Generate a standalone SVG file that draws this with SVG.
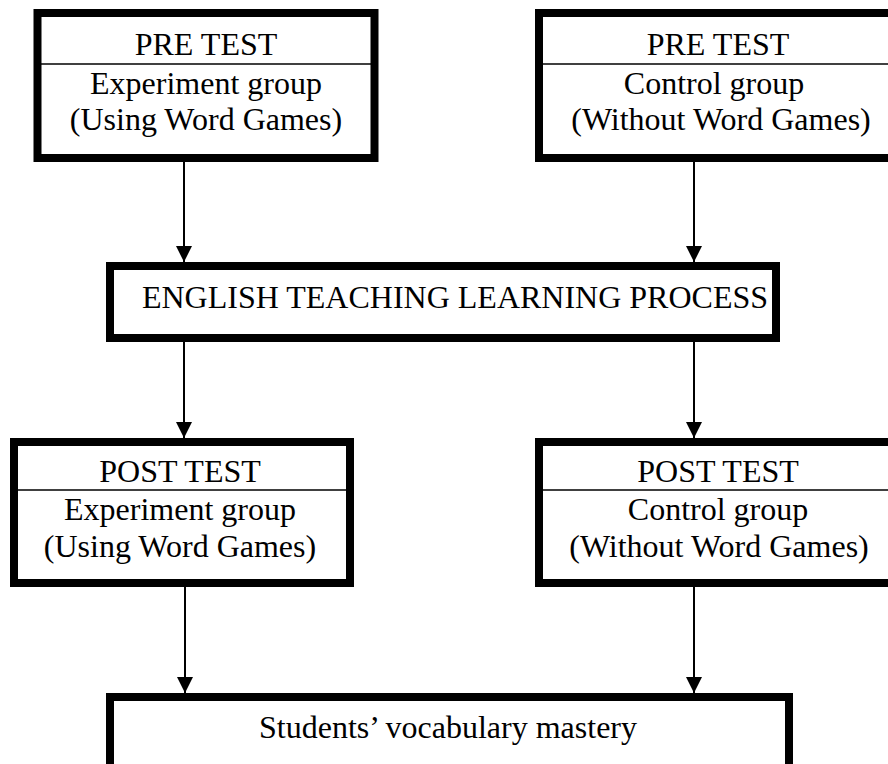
<svg xmlns="http://www.w3.org/2000/svg" width="888" height="764" viewBox="0 0 888 764">
<defs>
<style>
.box{fill:#fff;stroke:#000;stroke-width:8}
.div{stroke:#000;stroke-width:1.5}
.t{font-family:"Liberation Serif","Times New Roman",serif;font-size:32px;fill:#000;text-anchor:middle}
.c{stroke:#000;stroke-width:2;fill:none}
</style>
<marker id="ah" markerUnits="userSpaceOnUse" markerWidth="16" markerHeight="16" viewBox="0 0 16 16" refX="16" refY="8" orient="auto">
<path d="M0,0 L16,8 L0,16 Z" fill="#000"/>
</marker>
</defs>
<rect width="888" height="764" fill="#fff"/>
<g id="connectors">
<line class="c" x1="184" y1="162" x2="184" y2="262" marker-end="url(#ah)"/>
<line class="c" x1="694" y1="162" x2="694" y2="262" marker-end="url(#ah)"/>
<line class="c" x1="184" y1="342" x2="184" y2="438" marker-end="url(#ah)"/>
<line class="c" x1="694" y1="342" x2="694" y2="438" marker-end="url(#ah)"/>
<line class="c" x1="185" y1="587" x2="185" y2="693" marker-end="url(#ah)"/>
<line class="c" x1="694" y1="587" x2="694" y2="693" marker-end="url(#ah)"/>
</g>
<g id="pre-experiment">
<rect class="box" x="37.5" y="13" width="337" height="145"/>
<line class="div" x1="41" y1="64" x2="371" y2="64"/>
<text class="t" x="206" y="55">PRE TEST</text>
<text class="t" x="206" y="94">Experiment group</text>
<text class="t" x="206" y="130">(Using Word Games)</text>
</g>
<g id="pre-control">
<rect class="box" x="539" y="13" width="380" height="145"/>
<line class="div" x1="543" y1="64" x2="888" y2="64"/>
<text class="t" x="718" y="55">PRE TEST</text>
<text class="t" x="714" y="94">Control group</text>
<text class="t" x="721" y="130">(Without Word Games)</text>
</g>
<g id="process">
<rect class="box" x="110" y="266" width="666" height="72"/>
<text class="t" x="455" y="308">ENGLISH TEACHING LEARNING PROCESS</text>
</g>
<g id="post-experiment">
<rect class="box" x="14" y="442" width="336" height="141"/>
<line class="div" x1="18" y1="490" x2="346" y2="490"/>
<text class="t" x="180" y="482">POST TEST</text>
<text class="t" x="180" y="520">Experiment group</text>
<text class="t" x="180" y="557">(Using Word Games)</text>
</g>
<g id="post-control">
<rect class="box" x="539" y="442" width="380" height="141"/>
<line class="div" x1="543" y1="490" x2="888" y2="490"/>
<text class="t" x="718" y="482">POST TEST</text>
<text class="t" x="718" y="520">Control group</text>
<text class="t" x="719" y="557">(Without Word Games)</text>
</g>
<g id="outcome">
<rect class="box" x="110" y="697" width="679" height="100"/>
<text class="t" x="448" y="738">Students’ vocabulary mastery</text>
</g>
</svg>
